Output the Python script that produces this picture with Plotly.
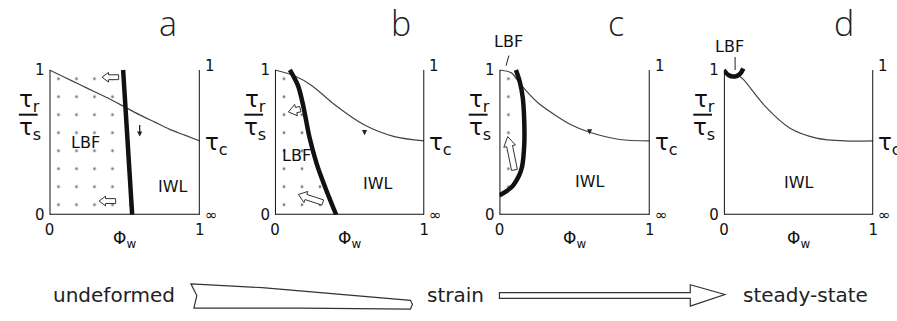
import math
import plotly.graph_objects as go

# ---------------- data ----------------
panel_letters = ["a", "b", "c", "d"]

# thin curve tau_r / tau_s versus phi_w
curve_a_x = [0.0, 0.1, 0.2, 0.3, 0.4, 0.5, 0.6, 0.7, 0.8, 0.9, 1.0]
curve_a_y = [1.0, 0.95, 0.90, 0.85, 0.80, 0.745, 0.69, 0.64, 0.59, 0.55, 0.51]
curve_b_x = [0.0, 0.13, 0.25, 0.40, 0.60, 0.80, 1.0]
curve_b_y = [1.0, 0.96, 0.89, 0.76, 0.62, 0.54, 0.51]
curve_c_x = [0.0, 0.08, 0.14, 0.26, 0.48, 0.60, 0.80, 1.0]
curve_c_y = [1.0, 0.98, 0.90, 0.77, 0.62, 0.57, 0.52, 0.51]
curve_d_x = [0.10, 0.13, 0.28, 0.44, 0.62, 0.81, 1.0]
curve_d_y = [0.96, 0.935, 0.745, 0.60, 0.53, 0.51, 0.51]

# thick LBF / IWL boundary
bound_a_x = [0.49, 0.55]
bound_a_y = [1.0, 0.0]
bound_b_x = [0.10, 0.155, 0.19, 0.23, 0.28, 0.34, 0.41]
bound_b_y = [1.0, 0.89, 0.75, 0.54, 0.35, 0.18, 0.0]
bound_c_x = [0.11, 0.135, 0.155, 0.165, 0.165, 0.15, 0.13, 0.08, 0.01, 0.0]
bound_c_y = [1.0, 0.92, 0.81, 0.65, 0.48, 0.33, 0.27, 0.19, 0.14, 0.135]
bound_d_x = [0.0, 0.03, 0.075, 0.11, 0.13]
bound_d_y = [1.0, 0.965, 0.955, 0.975, 1.01]

# hollow arrows (x0, y0) -> (x1, y1) per panel
hollow_a = [(0.46, 0.95, 0.35, 0.95), (0.44, 0.095, 0.33, 0.095)]
hollow_b = [(0.17, 0.73, 0.09, 0.71), (0.32, 0.085, 0.157, 0.14)]
hollow_c = [(0.10, 0.31, 0.055, 0.54)]
hollow_d = []

# small arrows on the curve (x, y_tail, y_head)
tick_arrows = [(0.60, 0.63, 0.54), (0.60, 0.59, 0.55), (0.60, 0.58, 0.555), None]

# region labels (x, y)
lbf_pos = [(0.24, 0.50), (0.146, 0.41), (0.06, 1.195), (0.04, 1.165)]
iwl_pos = [(0.82, 0.197), (0.69, 0.215), (0.605, 0.23), (0.50, 0.22)]

right_tick_vals = [1.0, 0.49, 0.0]
right_tick_text = ["1", "τ<sub>c</sub>", "∞"]

bottom_words = ["undeformed", "strain", "steady-state"]

# ---------------- layout constants ----------------
W, H = 897, 321
FONT = "DejaVu Sans"
X_PX = [(45, 197), (273, 424), (500, 652), (727, 878)]
Y0_PX, Y1_PX = 221, 72
YMAX = 1.25
SY = (Y0_PX - Y1_PX)
top_px = Y0_PX - YMAX * SY
ydom = [1 - Y0_PX / H, 1 - top_px / H]

curves = [(curve_a_x, curve_a_y), (curve_b_x, curve_b_y),
          (curve_c_x, curve_c_y), (curve_d_x, curve_d_y)]
bounds = [(bound_a_x, bound_a_y), (bound_b_x, bound_b_y),
          (bound_c_x, bound_c_y), (bound_d_x, bound_d_y)]
hollows = [hollow_a, hollow_b, hollow_c, hollow_d]
hollow_size = [(2.5, 5.0, 6.5), (2.8, 6.0, 8.0), (3.0, 6.0, 10.0), None]

fig = go.Figure()


def hollow_arrow(x0, y0, x1, y1, sx, sy, shw, hhw, hl):
    dx, dy = (x1 - x0) * sx, (y1 - y0) * sy
    L = math.hypot(dx, dy)
    ux, uy = dx / L, dy / L
    nx, ny = -uy, ux
    b = L - hl
    pts = [(shw, 0), (shw, b), (hhw, b), (0, L), (-hhw, b), (-shw, b), (-shw, 0), (shw, 0)]
    xs, ys = [], []
    for n, t in pts:
        px = t * ux + n * nx
        py = t * uy + n * ny
        xs.append(x0 + px / sx)
        ys.append(y0 + py / sy)
    return xs, ys


def txt(**kw):
    d = dict(showarrow=False, xanchor="center", yanchor="middle")
    d.update(kw)
    return d


shapes = []
annotations = []

for i in range(4):
    k = "" if i == 0 else str(i + 1)
    xa, ya = "x" + k, "y" + k
    l_px, r_px = X_PX[i]
    sx = r_px - l_px

    # LBF dotted region
    bx, by = bounds[i]
    if i in (0, 1):
        px = [0.0, 0.0] + bx + [0.0]
        py = [0.0, 1.0] + by + [0.0]
    elif i == 2:
        px = [0.0] + bx + [0.0]
        py = [1.0] + by + [1.0]
    else:
        px, py = None, None
    if px is not None:
        fig.add_trace(go.Scatter(
            x=px, y=py, mode="lines", fill="toself", line=dict(width=0),
            fillpattern=dict(shape=".", size=18, solidity=0.02,
                             fgcolor="#000", bgcolor="white"),
            xaxis=xa, yaxis=ya, hoverinfo="skip", showlegend=False))

    # thin curve
    cx, cy = curves[i]
    fig.add_trace(go.Scatter(x=cx, y=cy, mode="lines",
                             line=dict(color="#444", width=1.2, shape="spline", smoothing=0.8),
                             xaxis=xa, yaxis=ya, hoverinfo="skip", showlegend=False))
    # thick boundary
    fig.add_trace(go.Scatter(x=bx, y=by, mode="lines",
                             line=dict(color="#111", width=4.5, shape="spline", smoothing=0.8),
                             xaxis=xa, yaxis=ya, hoverinfo="skip", showlegend=False))

    # hollow arrows
    for (x0, y0, x1, y1) in hollows[i]:
        shw, hhw, hl = hollow_size[i]
        hx, hy = hollow_arrow(x0, y0, x1, y1, sx, SY, shw, hhw, hl)
        fig.add_trace(go.Scatter(x=hx, y=hy, mode="lines", fill="toself",
                                 fillcolor="white", line=dict(color="#333", width=1),
                                 xaxis=xa, yaxis=ya, hoverinfo="skip", showlegend=False))

    # small arrow on curve
    ta = tick_arrows[i]
    if ta is not None:
        annotations.append(dict(x=ta[0], y=ta[2], ax=ta[0], ay=ta[1], xref=xa, yref=ya,
                                axref=xa, ayref=ya, text="", showarrow=True,
                                arrowhead=2, arrowsize=0.8, arrowwidth=1.3, arrowcolor="#222"))

    # axis frame: left, right, bottom
    for (xx0, yy0, xx1, yy1) in [(0, 0, 0, 1), (1, 0, 1, 1), (0, 0, 1, 0)]:
        shapes.append(dict(type="line", xref=xa, yref=ya, x0=xx0, y0=yy0, x1=xx1, y1=yy1,
                           line=dict(color="#111", width=2), layer="above"))

    # right-hand tick labels
    for v, t in zip(right_tick_vals, right_tick_text):
        big = "τ" in t
        annotations.append(txt(x=1, y=v, xref=xa, yref=ya, text=t, xanchor="left",
                               xshift=3, yshift=(4 if v == 1 else 0),
                               font=dict(family=FONT, size=(23 if big else 15), color="#111")))

    # region labels
    lx, ly = lbf_pos[i]
    annotations.append(txt(x=lx, y=ly, xref=xa, yref=ya, text="LBF",
                           font=dict(family=FONT, size=16, color="#111")))
    ix, iy = iwl_pos[i]
    annotations.append(txt(x=ix, y=iy, xref=xa, yref=ya, text="IWL",
                           font=dict(family=FONT, size=16, color="#111")))
    if i == 2:
        annotations.append(dict(x=0.044, y=1.03, ax=0.066, ay=1.11, xref=xa, yref=ya,
                                axref=xa, ayref=ya, text="", showarrow=True, arrowhead=0,
                                arrowwidth=1, arrowcolor="#222"))
    if i == 3:
        annotations.append(dict(x=0.075, y=1.0, ax=0.075, ay=1.10, xref=xa, yref=ya,
                                axref=xa, ayref=ya, text="", showarrow=True, arrowhead=0,
                                arrowwidth=1, arrowcolor="#222"))

    # panel letter
    annotations.append(txt(x=[165, 400, 618, 848][i] / W, y=1 - 24 / H, xref="paper", yref="paper",
                           text=panel_letters[i],
                           font=dict(family="Open Sans", size=34, color="#222", weight=300)))

    # y title (fraction)
    cxp = (l_px - 20) / W
    annotations.append(txt(x=cxp, y=1 - 104 / H, xref="paper", yref="paper",
                           text="τ<sub>r</sub>",
                           font=dict(family=FONT, size=23, color="#111")))
    annotations.append(txt(x=cxp, y=1 - 133 / H, xref="paper", yref="paper",
                           text="τ<sub>s</sub>",
                           font=dict(family=FONT, size=23, color="#111")))
    shapes.append(dict(type="line", xref="paper", yref="paper",
                       x0=(l_px - 31) / W, x1=(l_px - 12) / W, y0=1 - 118 / H, y1=1 - 118 / H,
                       line=dict(color="#111", width=2)))

    # x title
    annotations.append(txt(x=0.5, y=1 - 246 / H, xref=xa + " domain", yref="paper",
                           text="Φ<sub>w</sub>",
                           font=dict(family=FONT, size=17, color="#111")))

    axis_common = dict(showgrid=False, zeroline=False, showline=False, ticks="",
                       tickfont=dict(family=FONT, size=15, color="#111"))
    fig.layout["xaxis" + k] = dict(domain=[l_px / W, r_px / W], range=[0, 1],
                                   tickvals=[0, 1], ticktext=["0", "1"], anchor=ya,
                                   ticklabelstandoff=4, **axis_common)
    fig.layout["yaxis" + k] = dict(domain=ydom, range=[0, YMAX], anchor=xa,
                                   tickvals=[0, 1], ticktext=["0", "1"],
                                   ticklabelstandoff=4, **axis_common)

# ---------------- bottom strain arrow row ----------------
def P(x, y):
    return x / W, 1 - y / H

wedge_px = [(188, 292), (260, 296), (410, 309), (412, 313), (410, 318), (300, 317), (191, 317),
            (194, 304), (188, 292)]
arrow_px = [(500, 301), (693, 301), (693, 293), (728, 303), (693, 315), (693, 307), (500, 307), (500, 301)]
for poly in (wedge_px, arrow_px):
    pts = [P(x, y) for x, y in poly]
    path = "M " + " L ".join(f"{x:.5f},{y:.5f}" for x, y in pts) + " Z"
    shapes.append(dict(type="path", xref="paper", yref="paper", path=path,
                       fillcolor="white", line=dict(color="#333", width=1.2)))

for word, cx in zip(bottom_words, [110, 456, 810]):
    annotations.append(txt(x=cx / W, y=1 - 303 / H, xref="paper", yref="paper", text=word,
                           font=dict(family=FONT, size=20, color="#222")))

fig.update_layout(width=W, height=H, margin=dict(l=0, r=0, t=0, b=0),
                  paper_bgcolor="white", plot_bgcolor="rgba(0,0,0,0)",
                  shapes=shapes, annotations=annotations, showlegend=False)

fig.write_html("out.html")
